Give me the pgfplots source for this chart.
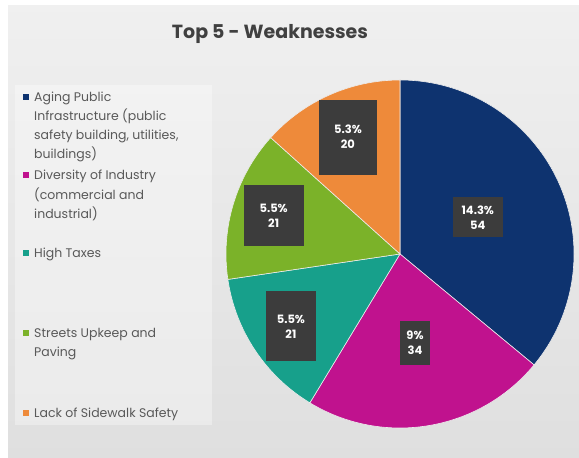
\documentclass[border=0pt]{standalone}
\usepackage{pgfplots}
\usepackage{pgfplotstable}
\pgfplotsset{compat=1.18}
\usepackage{fontspec}
\setmainfont{Poppins}

\definecolor{cNavy}{HTML}{0E336F}
\definecolor{cMag}{HTML}{C0128E}
\definecolor{cTeal}{HTML}{17A08B}
\definecolor{cGreen}{HTML}{7BB229}
\definecolor{cOrange}{HTML}{EE8A3A}
\definecolor{boxgray}{HTML}{3C3C3C}
\definecolor{txtgray}{HTML}{595959}

\tikzset{leg/.style={anchor=base west, inner sep=0pt, text=txtgray,
    font=\fontsize{12.5}{15}\selectfont}}

% slices clockwise from 12 o'clock; r = label distance, w/h = label box size (px)
\pgfplotstableread{
value pct color r w h
54 14.3 cNavy 86 50 40
34 9 cMag 90 30 44
21 5.5 cTeal 131 50 70
21 5.5 cGreen 132 60 61
20 5.3 cOrange 128 58 75
}\slices

\begin{document}
\begin{tikzpicture}
\begin{axis}[
    x=1pt, y=1pt,
    xmin=0, xmax=579, ymin=0, ymax=458,
    hide axis, clip=false,
]
% background
\fill[white] (axis cs:0,0) rectangle (axis cs:579,458);
\shade[top color=gray!12, bottom color=gray!25] (axis cs:8,0) rectangle (axis cs:579,452);
\fill[white, opacity=0.35] (axis cs:15,33) rectangle (axis cs:212,373);

% title
\node[anchor=base, font=\bfseries\fontsize{19}{22}\selectfont, text=black!75]
    at (axis cs:270,419) {Top 5 - Weaknesses};

% pie slices
\pgfplotstablegetrowsof{\slices}
\pgfmathtruncatemacro{\nrows}{\pgfplotsretval-1}
\def\total{0}
\pgfplotsforeachungrouped \i in {0,...,\nrows}{%
  \pgfplotstablegetelem{\i}{value}\of\slices
  \pgfmathsetmacro{\total}{\total+\pgfplotsretval}%
}
\def\cum{0}
\pgfplotsforeachungrouped \i in {0,...,\nrows}{%
  \pgfplotstablegetelem{\i}{value}\of\slices \let\v\pgfplotsretval
  \pgfplotstablegetelem{\i}{color}\of\slices \let\sc\pgfplotsretval
  \pgfmathsetmacro{\aa}{90-\cum/\total*360}%
  \pgfmathsetmacro{\ab}{90-(\cum+\v)/\total*360}%
  \edef\doslice{%
    \noexpand\fill[\sc, draw=white!85!gray, line width=0.6pt]
      (axis cs:400,204) -- ++(\aa:174pt)
      arc[start angle=\aa, end angle=\ab, radius=174pt] -- cycle;
  }\doslice
  \pgfmathsetmacro{\cum}{\cum+\v}%
}
% data labels
\def\cum{0}
\pgfplotsforeachungrouped \i in {0,...,\nrows}{%
  \pgfplotstablegetelem{\i}{value}\of\slices \let\v\pgfplotsretval
  \pgfplotstablegetelem{\i}{pct}\of\slices \let\p\pgfplotsretval
  \pgfplotstablegetelem{\i}{r}\of\slices \let\rr\pgfplotsretval
  \pgfplotstablegetelem{\i}{w}\of\slices \let\ww\pgfplotsretval
  \pgfplotstablegetelem{\i}{h}\of\slices \let\hh\pgfplotsretval
  \pgfmathsetmacro{\am}{90-(\cum+\v/2)/\total*360}%
  \pgfmathsetmacro{\lx}{400+\rr*cos(\am)}%
  \pgfmathsetmacro{\ly}{204+\rr*sin(\am)}%
  \edef\dolabel{%
    \noexpand\node[fill=boxgray, text=white, align=center, inner sep=1pt,
      minimum width=\ww pt, minimum height=\hh pt,
      font=\noexpand\bfseries\noexpand\fontsize{11.5}{15}\noexpand\selectfont]
      at (axis cs:\lx,\ly) {\p\noexpand\%\noexpand\\\v};
  }\dolabel
  \pgfmathsetmacro{\cum}{\cum+\v}%
}

% legend
\fill[cNavy]   (axis cs:23,358) rectangle (axis cs:29,364);
\fill[cMag]    (axis cs:23,280) rectangle (axis cs:29,286);
\fill[cTeal]   (axis cs:23,202) rectangle (axis cs:29,208);
\fill[cGreen]  (axis cs:23,122) rectangle (axis cs:29,128);
\fill[cOrange] (axis cs:23,42)  rectangle (axis cs:29,48);
\node[leg] at (axis cs:34,356.5) {Aging Public};
\node[leg] at (axis cs:34,337.5) {Infrastructure (public};
\node[leg] at (axis cs:34,318.5) {safety building, utilities,};
\node[leg] at (axis cs:34,299.5) {buildings)};
\node[leg] at (axis cs:34,278.5) {Diversity of Industry};
\node[leg] at (axis cs:34,258.5) {(commercial and};
\node[leg] at (axis cs:34,239.5) {industrial)};
\node[leg] at (axis cs:34,200.5) {High Taxes};
\node[leg] at (axis cs:34,120.5) {Streets Upkeep and};
\node[leg] at (axis cs:34,101.5) {Paving};
\node[leg] at (axis cs:34,40.5)  {Lack of Sidewalk Safety};
\end{axis}
\end{tikzpicture}
\end{document}
